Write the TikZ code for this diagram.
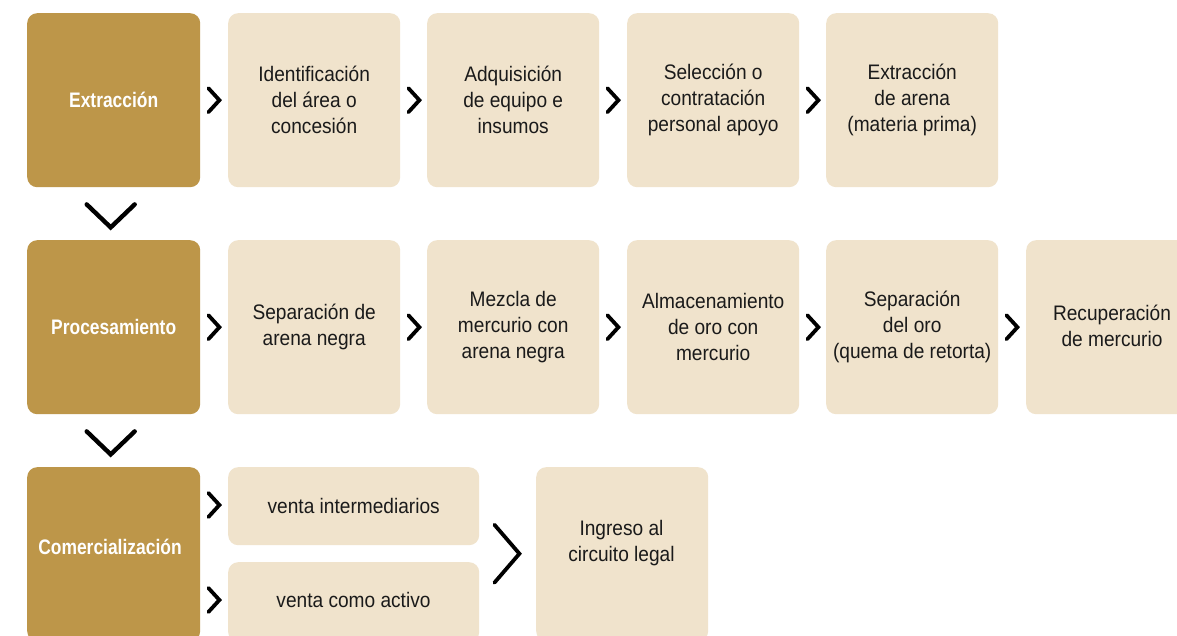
\documentclass[tikz,border=0pt]{standalone}
\usepackage{fontspec}
\setmainfont{Liberation Sans}[FakeStretch=0.91, BoldFeatures={FakeStretch=0.83}]
\usetikzlibrary{calc}
\definecolor{gold}{HTML}{BD9649}
\definecolor{cream}{HTML}{F0E3CC}
\definecolor{ink}{HTML}{1A1A1A}
\tikzset{
  phase/.style={rectangle, rounded corners=10pt, fill=gold, minimum width=173pt, minimum height=174pt, anchor=north west, inner sep=0pt},
  stepbox/.style={rectangle, rounded corners=10pt, fill=cream, minimum width=172pt, minimum height=174pt, anchor=north west, inner sep=0pt, align=center, text=ink, font=\fontsize{21}{26}\selectfont},
  phlabel/.style={text=white, font=\fontsize{21}{26}\selectfont\bfseries, align=center},
  txt/.style={text=ink, font=\fontsize{21}{26}\selectfont, align=center},
  chev/.style={draw=black, line width=3.8pt, line cap=round, line join=miter},
  dchev/.style={draw=black, line width=4.4pt, line cap=round, line join=miter}
}
\begin{document}
\begin{tikzpicture}[x=1pt,y=-1pt]
\clip (0,0) rectangle (1177,636);
\fill[white] (0,0) rectangle (1177,636);
% row 1
\node[phase] (p1) at (27,13) {};
\node[phlabel] (p1t) at (p1.center) {Extracción};
\node[stepbox] (a1) at (228,13) {Identificación\\del área o\\concesión};
\node[stepbox] (a2) at (427,13) {Adquisición\\de equipo e\\insumos};
\node[stepbox] (a3) at (627,13) {Selección o\\contratación\\personal apoyo};
\node[stepbox] (a4) at (826,13) {Extracción\\de arena\\(materia prima)};
% row 2
\node[phase] (p2) at (27,240) {};
\node[phlabel] (p2t) at (p2.center) {Procesamiento};
\node[stepbox] (b1) at (228,240) {Separación de\\arena negra};
\node[stepbox] (b2) at (427,240) {Mezcla de\\mercurio con\\arena negra};
\node[stepbox] (b3) at (627,240) {Almacenamiento\\de oro con\\mercurio};
\node[stepbox] (b4) at (826,240) {Separación\\del oro\\(quema de retorta)};
\node[stepbox] (b5) at (1026,240) {};
\node[txt] (b5t) at ($(b5.north west)+(86,86)$) {Recuperación\\de mercurio};
% row 3
\node[phase] (p3) at (27,467) {};
\node[phlabel] (p3t) at (110,547) {Comercialización};
\node[stepbox, minimum width=251pt, minimum height=78pt] (c1) at (228,467) {venta intermediarios};
\node[stepbox, minimum width=251pt, minimum height=80pt] (c2) at (228,562) {};
\node[txt] (c2t) at (353.5,600) {venta como activo};
\node[stepbox] (c3) at (536,467) {};
\node[txt] (c3t) at (621.5,543) {Ingreso al\\circuito legal};
% horizontal chevrons
\foreach \a in {p1,a1,a2,a3,p2,b1,b2,b3,b4}{
  \draw[chev] ([shift={(8,-12)}]\a.east) -- ([shift={(19,0)}]\a.east) -- ([shift={(8,12)}]\a.east);
}
% row 3 chevrons
\draw[chev] ($(p3.north east)+(8,26)$) -- ($(p3.north east)+(19,38)$) -- ($(p3.north east)+(8,50)$);
\draw[chev] ($(p3.north east)+(8,121)$) -- ($(p3.north east)+(19,133)$) -- ($(p3.north east)+(8,145)$);
\coordinate (m) at ($(c1.south east)!0.5!(c2.north east)$);
\draw[chev] ($(m)+(15,-29)$) -- ($(m)+(40,0)$) -- ($(m)+(15,29)$);
% vertical chevrons
\draw[dchev] ($(p1.south)+(-27,17)$) -- ($(p1.south)+(-3,40)$) -- ($(p1.south)+(21,17)$);
\draw[dchev] ($(p2.south)+(-27,17)$) -- ($(p2.south)+(-3,40)$) -- ($(p2.south)+(21,17)$);
\end{tikzpicture}
\end{document}
